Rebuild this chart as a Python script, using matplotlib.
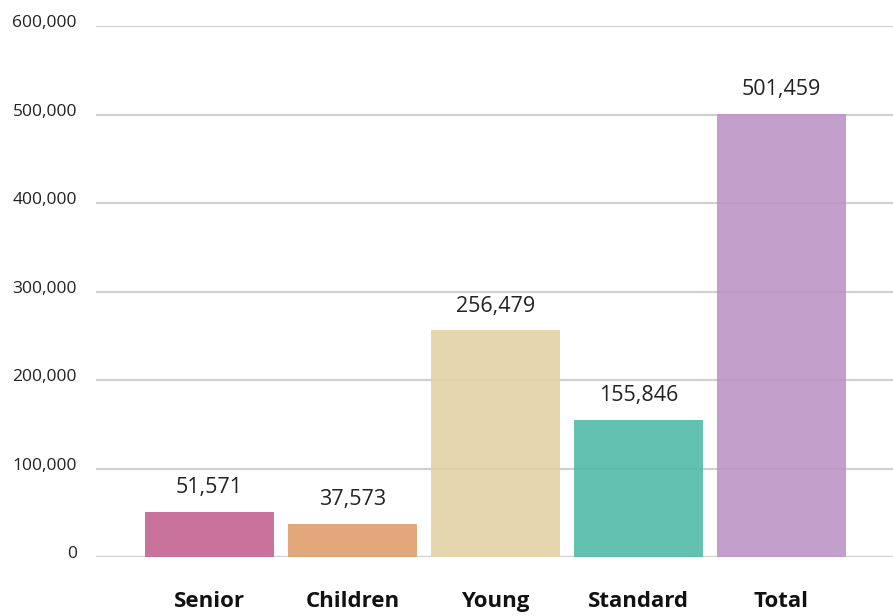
import numpy as np
import matplotlib.pyplot as plt
import matplotlib.transforms as mtransforms
from matplotlib.ticker import FuncFormatter

plt.rcParams['font.family'] = ['Open Sans', 'DejaVu Sans']

categories = ['Senior', 'Children', 'Young', 'Standard', 'Total']
values = [51571, 37573, 256479, 155846, 501459]
colors = ['#c2608f', '#de9c68', '#e3d1a3', '#4cb9a6', '#bb93c5']

fig = plt.figure(figsize=(8.93, 6.16), dpi=100)
ax = fig.add_axes([0.108, 0.095, 0.892, 0.862])

x = np.arange(len(categories))
bars = ax.bar(x, values, width=0.9, color=colors, alpha=0.88, zorder=3)

for xi, v in zip(x, values):
    ax.annotate(f'{v:,}', (xi, v), xytext=(0, 10), textcoords='offset points',
                ha='center', va='bottom', fontsize=15.5, color='#222222')

ax.set_ylim(0, 600000)
ax.set_xlim(-0.79, 4.78)
ax.set_yticks(np.arange(0, 600001, 100000))
ax.yaxis.set_major_formatter(FuncFormatter(lambda v, p: f'{int(v):,}'))
ax.grid(axis='y', color='#d0d0d0', linewidth=1.6, zorder=1)
ax.set_axisbelow(True)

ax.set_xticks(x)
ax.set_xticklabels(categories, fontsize=16, fontweight='bold', color='#111111')
ax.tick_params(axis='x', length=0, pad=24)
ax.tick_params(axis='y', length=0, pad=14, labelsize=12.5, labelcolor='#222222')
for side in ['top', 'right', 'left', 'bottom']:
    ax.spines[side].set_visible(False)

# y labels sit a little above their gridlines
lift = mtransforms.ScaledTranslation(0, 5 / 100, fig.dpi_scale_trans)
for lbl in ax.get_yticklabels():
    lbl.set_transform(lbl.get_transform() + lift)

fig.savefig('out.png', dpi=100)
